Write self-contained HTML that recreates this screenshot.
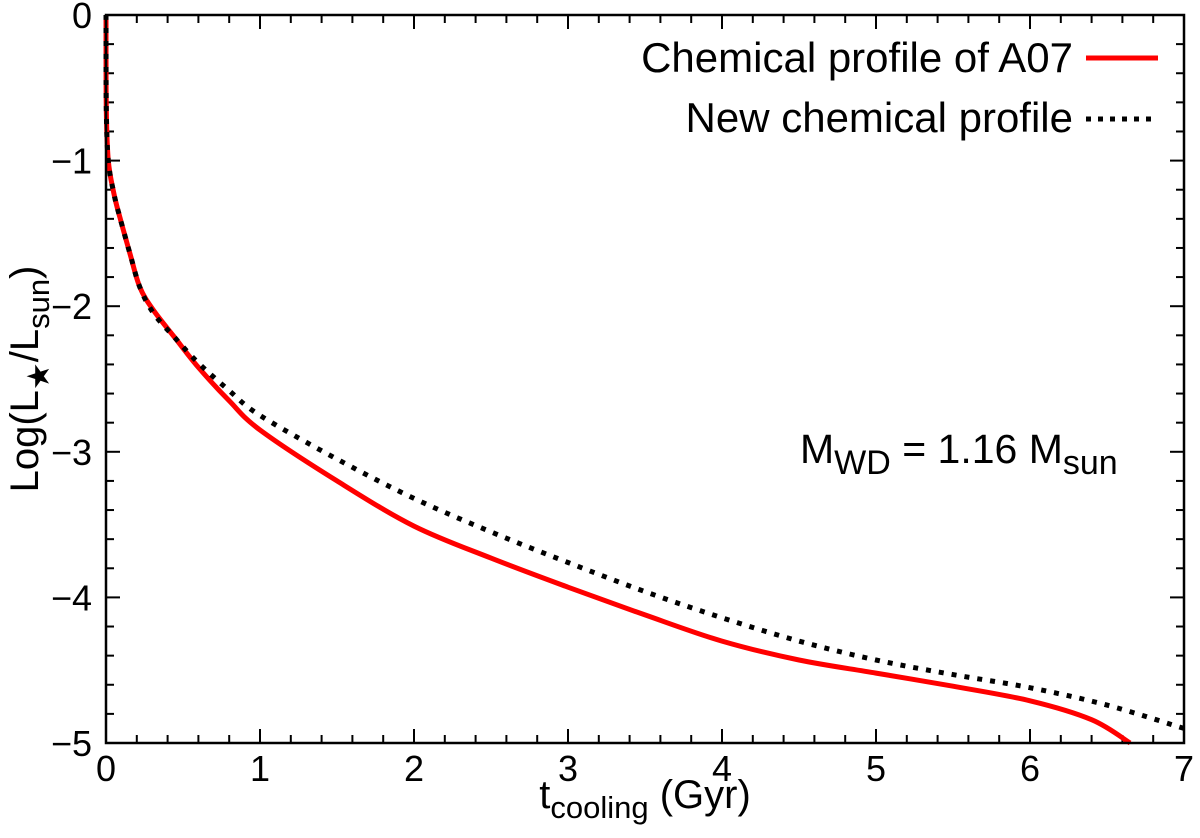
<!DOCTYPE html>
<html><head><meta charset="utf-8"><style>
body{margin:0;background:#fff}
svg{font-family:"Liberation Sans",sans-serif}
</style></head><body>
<svg id="chart" width="1200" height="833" viewBox="0 0 1200 833">
<g id="ticks"></g>
<g id="series"></g>
<rect x="106" y="15" width="1078" height="728" fill="none" stroke="#000" stroke-width="2.5"/>
<text x="1073" y="72" font-size="42" text-anchor="end">Chemical profile of A07</text>
<line x1="1086" y1="58" x2="1158" y2="58" stroke="#f00" stroke-width="5"/>
<text x="1073" y="132" font-size="42" text-anchor="end">New chemical profile</text>
<line x1="1086" y1="119" x2="1158" y2="119" stroke="#000" stroke-width="5" stroke-dasharray="5,7"/>
<text x="800" y="463" font-size="41">M<tspan font-size="34" dy="11">WD</tspan><tspan dy="-11"> = 1.16 M</tspan><tspan font-size="34" dy="11">sun</tspan></text>
<text transform="translate(38,379) rotate(-90)" font-size="40" text-anchor="middle">Log(L<tspan font-size="31" dy="11">★</tspan><tspan dy="-11">/L</tspan><tspan font-size="31" dy="11">sun</tspan><tspan dy="-11">)</tspan></text>
<text x="645" y="808" font-size="40" text-anchor="middle">t<tspan font-size="31" dy="10">cooling</tspan><tspan dy="-10"> (Gyr)</tspan></text>
</svg>
<script>
const xTicks=[0,1,2,3,4,5,6,7];
const yTicks=[0,-1,-2,-3,-4,-5];
const a07T=[0,0.002,0.015,0.05,0.09,0.156,0.22,0.31,0.45,0.6,0.8,1,1.5,2,2.5,3,3.5,4,4.5,5,5.5,6,6.4,6.65];
const a07L=[0,-0.65,-1.0,-1.22,-1.39,-1.64,-1.87,-2.03,-2.22,-2.42,-2.65,-2.85,-3.2,-3.51,-3.73,-3.93,-4.12,-4.3,-4.43,-4.52,-4.61,-4.71,-4.84,-5.0];
const newT=[0,0.002,0.015,0.05,0.09,0.156,0.22,0.31,0.45,0.6,0.8,1,1.5,2,2.5,3,3.5,4,4.5,5,5.5,6,6.5,7];
const newL=[0,-0.65,-1.0,-1.22,-1.39,-1.64,-1.87,-2.05,-2.22,-2.39,-2.58,-2.75,-3.05,-3.32,-3.55,-3.76,-3.96,-4.14,-4.3,-4.43,-4.53,-4.62,-4.74,-4.9];
const X=v=>106+v*154, Y=v=>15-v*145.6;
const NS="http://www.w3.org/2000/svg";
const tg=document.getElementById('ticks'), sg=document.getElementById('series');
function mk(tag,at,parent){const e=document.createElementNS(NS,tag);for(const k in at)e.setAttribute(k,at[k]);parent.appendChild(e);return e;}
for(let i=0;i<=35;i++){const v=i*0.2,x=X(v),len=i%5===0?14:8;
 const t1=mk('line',{x1:x,y1:743,x2:x,y2:743-len,stroke:'#000','stroke-width':2},tg);
 
 
 const t2=mk('line',{x1:x,y1:15,x2:x,y2:15+len,stroke:'#000','stroke-width':2},tg);
 
 }
for(let i=0;i<=25;i++){const v=-i*0.2,y=Y(v),len=i%5===0?14:8;
 const t1=mk('line',{x1:106,y1:y,x2:106+len,y2:y,stroke:'#000','stroke-width':2},tg);
 
 
 const t2=mk('line',{x1:1184,y1:y,x2:1184-len,y2:y,stroke:'#000','stroke-width':2},tg);
 
 }
xTicks.forEach(v=>{const t=mk('text',{x:X(v),y:781,'font-size':36,'text-anchor':'middle'},tg);t.textContent=v;
 
 });
yTicks.forEach(v=>{const t=mk('text',{x:92,y:Y(v)+13,'font-size':36,'text-anchor':'end'},tg);t.textContent=v===0?'0':'\u2212'+(-v);
 
 });
function path(T,L){const p=T.map((t,i)=>[X(t),Y(L[i])]);let d='M'+p[0][0]+','+p[0][1];
 for(let i=0;i<p.length-1;i++){const a=p[Math.max(0,i-1)],b=p[i],c=p[i+1],e=p[Math.min(p.length-1,i+2)];
  const c1=[b[0]+(c[0]-a[0])/6,b[1]+(c[1]-a[1])/6],c2=[c[0]-(e[0]-b[0])/6,c[1]-(e[1]-b[1])/6];
  d+='C'+c1.map(n=>n.toFixed(1))+' '+c2.map(n=>n.toFixed(1))+' '+c.map(n=>n.toFixed(1));}
 return d;}
const p1=mk('path',{d:path(a07T,a07L),fill:'none',stroke:'#f00','stroke-width':5,'stroke-linejoin':'round'},sg);


const p2=mk('path',{d:path(newT,newL),fill:'none',stroke:'#000','stroke-width':5,'stroke-dasharray':'5,8'},sg);


</script>
</body></html>
